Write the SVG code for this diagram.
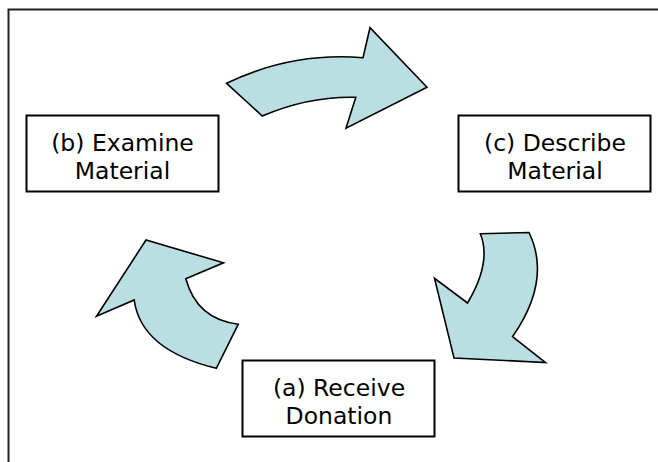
<svg xmlns="http://www.w3.org/2000/svg" width="658" height="462" viewBox="0 0 658 462">
<style>
.box{fill:#fff;stroke:#000;stroke-width:2}
.arrow{fill:#B9DFE3;stroke:#000;stroke-width:1.6;stroke-linejoin:miter}
.lbl{font-family:"DejaVu Sans",sans-serif;font-size:23.5px;fill:#000;text-anchor:middle}
</style>
<rect x="0" y="0" width="658" height="462" fill="#fff"/>
<rect x="8.5" y="9.5" width="700" height="520" fill="none" stroke="#222" stroke-width="2"/>
<g id="connectors">
<path class="arrow" d="M226.6,83.3 L262.3,116 Q309,96 355.8,97.3 L346,128.3 L427,87.3 L370,27.7 L363,57.7 Q291,52 226.6,83.3 Z"/>
<path class="arrow" d="M480.3,233.7 L529,232.5 Q552,280 512.5,336.7 L545.5,362.5 L454,358 L434.5,278.3 L467.5,303 Q492,262 480.3,233.7 Z"/>
<path class="arrow" d="M216.3,368.3 L238.3,324.2 Q197,319.5 185.8,278.8 L223.5,262.8 L146,240 L96.5,316.3 L134.2,300 Q141,350 216.3,368.3 Z"/>
</g>
<g id="node-b">
<rect class="box" x="26.5" y="115.5" width="192" height="76"/>
<text class="lbl" x="122.5" y="151">(b) Examine</text>
<text class="lbl" x="122.5" y="179">Material</text>
</g>
<g id="node-c">
<rect class="box" x="458.5" y="115.5" width="192" height="76"/>
<text class="lbl" x="555" y="151">(c) Describe</text>
<text class="lbl" x="555" y="179">Material</text>
</g>
<g id="node-a">
<rect class="box" x="242.5" y="360.5" width="192" height="76"/>
<text class="lbl" x="339" y="396">(a) Receive</text>
<text class="lbl" x="339" y="424">Donation</text>
</g>
</svg>
